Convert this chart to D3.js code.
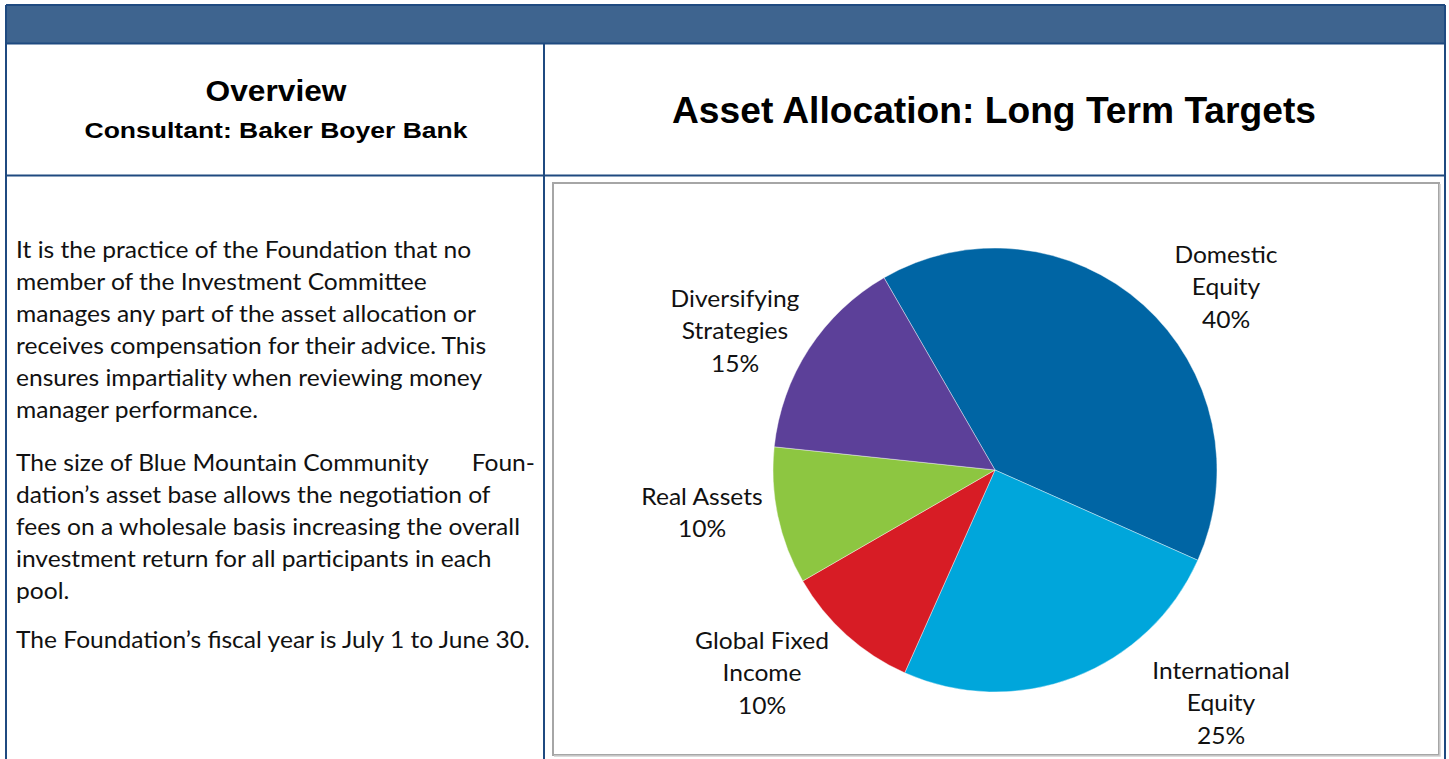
<!DOCTYPE html>
<html>
<head>
<meta charset="utf-8">
<script src="https://cdn.jsdelivr.net/npm/d3@7"></script>
<style>
  body { margin: 0; background: #fff; }
  svg { display: block; }
</style>
</head>
<body>
<svg id="page"></svg>
<script>
// data
var categories = ["Domestic Equity", "International Equity", "Global Fixed Income", "Real Assets", "Diversifying Strategies"];
var targets = [40, 25, 10, 10, 15];
var labelLines = [["Domestic", "Equity"], ["International", "Equity"], ["Global Fixed", "Income"], ["Real Assets"], ["Diversifying", "Strategies"]];
var sliceColors = ["#0065a4", "#00a6db", "#d71c25", "#8dc641", "#5c4099"];

var para1 = ["It is the practice of the Foundation that no",
             "member of the Investment Committee",
             "manages any part of the asset allocation or",
             "receives compensation for their advice.  This",
             "ensures impartiality when reviewing money",
             "manager performance."];
var para2 = ["The size of Blue Mountain Community",
             "dation\u2019s asset base allows the negotiation of",
             "fees on a wholesale basis increasing the  overall",
             "investment return for all participants in each",
             "pool."];
var para3 = ["The Foundation\u2019s fiscal year is July 1 to June 30."];

var W = 1449, H = 759;
var svg = d3.select("#page").attr("width", W).attr("height", H);

var navy = "#1f4a80";
var stretch = 1.07;   // source image is slightly widened

// header band
svg.append("rect").attr("x", 6).attr("y", 5).attr("width", 1440).attr("height", 38).attr("fill", "#3e648f");

// table lines
var lines = [
  [6, 5, 6, 759], [1445, 5, 1445, 759], [6, 5, 1445, 5],
  [6, 43.5, 1445, 43.5], [6, 175.5, 1445, 175.5], [544, 43.5, 544, 759]
];
svg.selectAll(".grid").data(lines).enter().append("line")
    .attr("x1", function(d){ return d[0]; }).attr("y1", function(d){ return d[1]; })
    .attr("x2", function(d){ return d[2]; }).attr("y2", function(d){ return d[3]; })
    .attr("stroke", navy).attr("stroke-width", 2);

// headings
var head = svg.append("g").attr("font-family", "Liberation Sans, Arial, sans-serif").attr("font-weight", "bold").attr("fill", "#000").attr("text-anchor", "middle");
head.append("text").attr("x", 276).attr("y", 101).attr("font-size", 29)
    .attr("textLength", 141).attr("lengthAdjust", "spacingAndGlyphs").text("Overview");
head.append("text").attr("x", 276).attr("y", 138).attr("font-size", 22.5)
    .attr("textLength", 383).attr("lengthAdjust", "spacingAndGlyphs").text("Consultant: Baker Boyer Bank");
head.append("text").attr("x", 994).attr("y", 123).attr("font-size", 37)
    .attr("textLength", 644).attr("lengthAdjust", "spacingAndGlyphs").text("Asset Allocation: Long Term Targets");

// body text
var body = svg.append("g").attr("font-family", "Lato, 'Open Sans', sans-serif").attr("font-size", 23).attr("fill", "#111")
    .attr("transform", "translate(16,0) scale(" + stretch + ",1)");
function writeLines(arr, y0) {
  body.selectAll(null).data(arr).enter().append("text")
      .attr("x", 0)
      .attr("y", function(d, i){ return y0 + i * 32; })
      .text(function(d){ return d; });
}
writeLines(para1, 258);
writeLines(para2, 471);
writeLines(para3, 648);
body.append("text").attr("x", (535 - 16) / stretch).attr("y", 471).attr("text-anchor", "end").text("Foun-");

// chart frame
svg.append("rect").attr("x", 553).attr("y", 183).attr("width", 886).attr("height", 572)
    .attr("fill", "#fff").attr("stroke", "#a6a6a6").attr("stroke-width", 2);
svg.append("path").attr("d", "M1440,184V756H554").attr("fill", "none").attr("stroke", "#d0d0d0").attr("stroke-width", 1.5);

// pie
var cx = 995, cy = 470, r = 222;
var pie = d3.pie().sort(null).value(function(d){ return d; })
    .startAngle(-Math.PI / 6).endAngle(2 * Math.PI - Math.PI / 6);
var arc = d3.arc().innerRadius(0).outerRadius(r);
var arcs = pie(targets);

var g = svg.append("g").attr("transform", "translate(" + cx + "," + cy + ")");
g.selectAll(".slice").data(arcs).enter().append("path")
    .attr("class", "slice")
    .attr("d", arc)
    .attr("fill", function(d, i){ return sliceColors[i]; })
    .attr("stroke", "#fff").attr("stroke-width", 0.4);

// label placement (Excel best-fit style), offsets from pie center
var labelAt = [[231, -207], [226, 209], [-233, 179], [-293, 35], [-260, -163]];
var lab = g.append("g").attr("font-family", "Lato, 'Open Sans', sans-serif").attr("font-size", 23).attr("fill", "#111").attr("text-anchor", "middle");
arcs.forEach(function(a, i) {
  var t = lab.append("text")
      .attr("transform", "translate(" + labelAt[i][0] + "," + labelAt[i][1] + ") scale(" + stretch + ",1)");
  var rows = labelLines[i].concat([targets[i] + "%"]);
  rows.forEach(function(s, k) {
    t.append("tspan").attr("x", 0).attr("y", k * 32.5).text(s);
  });
});
</script>
</body>
</html>
